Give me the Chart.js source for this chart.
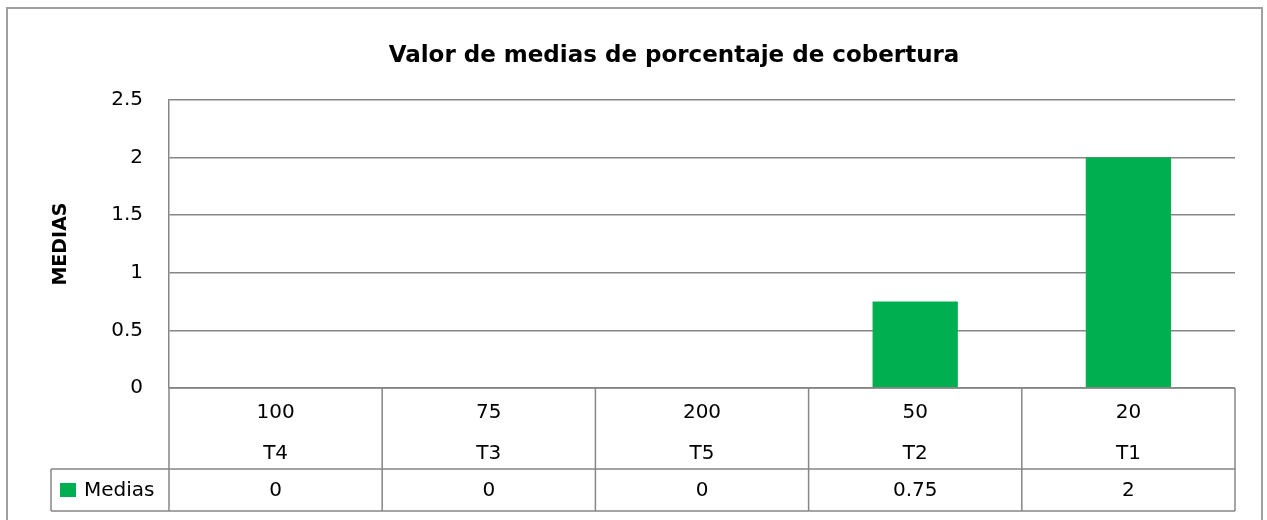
<!DOCTYPE html>
<html lang="es">
<head>
  <meta charset="UTF-8" />
  <title>Valor de medias de porcentaje de cobertura</title>
  <script src="https://cdn.jsdelivr.net/npm/chart.js"></script>
  <style>
    html, body { margin: 0; padding: 0; background: #ffffff; }
    .wrap { position: relative; width: 1267px; height: 520px; }
  </style>
</head>
<body>
<div class="wrap">
  <canvas id="mediasChart" width="1267" height="520"></canvas>
</div>

<script>
  // datos
  const doses = ['100', '75', '200', '50', '20'];
  const treatments = ['T4', 'T3', 'T5', 'T2', 'T1'];
  const medias = [0, 0, 0, 0.75, 2];
  const seriesName = 'Medias';
  const chartTitle = 'Valor de medias de porcentaje de cobertura';

  const FONT = '"DejaVu Sans", "Noto Sans", sans-serif';
  const lineGray = '#868686';
  const barGreen = '#00B050';

  // titulo + tabla de datos bajo el eje (estilo Excel)
  const dataTable = {
    id: 'dataTable',
    afterDraw(chart) {
      const ctx = chart.ctx;
      const x = chart.scales.x;
      const area = chart.chartArea;
      const row1 = area.bottom + 81;
      const row2 = row1 + 42;
      const legendLeft = 51;
      const step = (area.right - area.left) / doses.length;

      ctx.save();
      ctx.strokeStyle = lineGray;
      ctx.lineWidth = 1.5;
      ctx.beginPath();
      // horizontales
      ctx.moveTo(area.left, area.bottom); ctx.lineTo(area.right, area.bottom);
      ctx.moveTo(legendLeft, row1); ctx.lineTo(area.right, row1);
      ctx.moveTo(legendLeft, row2); ctx.lineTo(area.right, row2);
      // verticales
      ctx.moveTo(legendLeft, row1); ctx.lineTo(legendLeft, row2);
      for (let i = 0; i <= doses.length; i++) {
        const px = area.left + i * step;
        ctx.moveTo(px, area.bottom); ctx.lineTo(px, row2);
      }
      ctx.stroke();

      ctx.fillStyle = '#000000';
      ctx.font = '20px ' + FONT;
      ctx.textAlign = 'center';
      ctx.textBaseline = 'middle';
      doses.forEach((d, i) => {
        const cx = x.getPixelForValue(i);
        ctx.fillText(d, cx, area.bottom + 25);
        ctx.fillText(treatments[i], cx, area.bottom + 66);
        ctx.fillText(String(medias[i]), cx, row1 + 22);
      });

      // leyenda
      ctx.fillStyle = barGreen;
      ctx.fillRect(60, row1 + 14, 16, 14);
      ctx.fillStyle = '#000000';
      ctx.textAlign = 'left';
      ctx.fillText(seriesName, 84, row1 + 22);

      // titulo
      ctx.textAlign = 'center';
      ctx.font = 'bold 23px ' + FONT;
      ctx.fillText(chartTitle, 674, 56);

      // borde exterior
      ctx.strokeStyle = '#a0a0a0';
      ctx.lineWidth = 2;
      ctx.strokeRect(7, 8, 1255, 530);
      ctx.restore();
    }
  };

  new Chart(document.getElementById('mediasChart'), {
    type: 'bar',
    data: {
      labels: treatments,
      datasets: [{
        label: seriesName,
        data: medias,
        backgroundColor: barGreen,
        borderWidth: 0,
        barPercentage: 0.4,
        categoryPercentage: 1
      }]
    },
    options: {
      responsive: false,
      animation: false,
      layout: { padding: { top: 100, right: 32, bottom: 132, left: 0 } },
      plugins: {
        legend: { display: false },
        tooltip: { enabled: false },
        title: { display: false }
      },
      scales: {
        x: {
          display: false
        },
        y: {
          min: 0,
          max: 2.5,
          ticks: {
            stepSize: 0.5,
            color: '#000000',
            font: { family: FONT, size: 20 },
            padding: 26,
            callback: v => String(v)
          },
          grid: { color: lineGray, lineWidth: 1.5, drawTicks: false },
          border: { display: true, color: lineGray, width: 1.5 },
          title: {
            display: true,
            text: 'MEDIAS',
            color: '#000000',
            font: { family: FONT, size: 19, weight: 'bold' },
            padding: { top: 50, bottom: 0 }
          },
          afterFit(scale) { scale.width = 169; }
        }
      }
    },
    plugins: [dataTable]
  });
</script>
</body>
</html>
